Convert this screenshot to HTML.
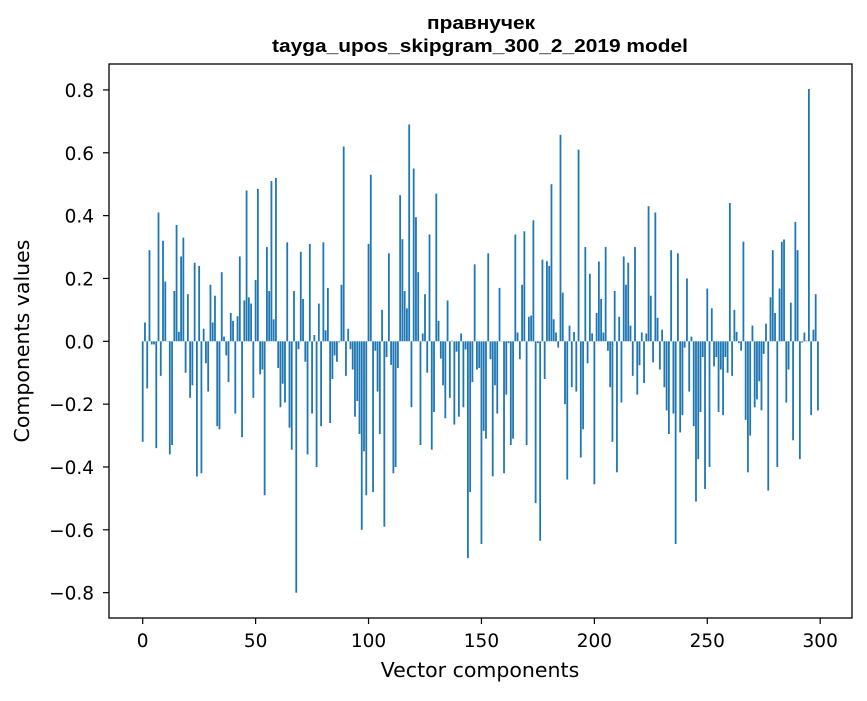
<!DOCTYPE html>
<html><head><meta charset="utf-8"><style>
body{margin:0;background:#fff;}
svg text{font-family:"DejaVu Sans","Liberation Sans",sans-serif;fill:#000;}
</style></head><body>
<svg id="chart" width="867" height="696" xmlns="http://www.w3.org/2000/svg">
<rect width="867" height="696" fill="#fff"/>
<text x="481" y="29" text-anchor="middle" textLength="108" lengthAdjust="spacingAndGlyphs" style="font-family:'Liberation Sans',sans-serif;font-weight:bold;font-size:18px">правнучек</text>
<text x="480" y="52" text-anchor="middle" textLength="416" lengthAdjust="spacingAndGlyphs" style="font-family:'Liberation Sans',sans-serif;font-weight:bold;font-size:18px">tayga_upos_skipgram_300_2_2019 model</text>
<g id="bars"></g>
<g id="axes"></g>
<rect x="109" y="64" width="743" height="554" fill="none" stroke="#000" stroke-width="1.3"/>
<text x="480" y="677" text-anchor="middle" font-size="20.5">Vector components</text>
<text transform="translate(29,341) rotate(-90)" text-anchor="middle" font-size="20.5">Components values</text>
</svg>
<script>
const values=[-0.32,0.06,-0.15,0.29,-0.01,-0.01,-0.34,0.41,-0.11,0.32,0.19,0.0,-0.36,-0.33,0.16,0.37,0.03,0.27,0.33,-0.10,
0.15,-0.18,-0.14,0.25,-0.43,0.24,-0.42,0.04,-0.07,-0.16,0.18,0.06,0.145,-0.27,-0.28,0.22,0.015,-0.045,-0.13,0.09,
0.065,-0.23,0.08,0.27,-0.305,0.13,0.48,0.14,0.12,-0.18,0.195,0.485,-0.105,-0.09,-0.49,0.30,0.16,0.51,0.07,0.52,
-0.085,-0.21,-0.135,-0.195,0.315,-0.275,-0.345,0.16,-0.80,-0.025,0.285,0.135,-0.065,-0.36,0.31,-0.23,0.02,-0.40,0.12,-0.27,
0.315,0.035,0.17,-0.26,-0.12,-0.045,-0.065,-0.003,0.18,0.62,-0.11,0.04,-0.025,-0.09,-0.24,-0.19,-0.295,-0.60,-0.35,-0.49,
0.31,0.53,-0.48,-0.03,-0.16,-0.295,0.10,-0.59,-0.05,0.28,-0.075,-0.42,-0.40,-0.085,0.465,0.325,0.16,0.105,0.69,-0.21,
0.55,0.395,0.22,-0.33,0.025,0.15,-0.10,0.34,-0.345,-0.225,0.47,0.065,-0.055,-0.14,-0.245,0.13,-0.18,0.002,-0.265,-0.033,
-0.24,0.025,-0.21,-0.026,-0.69,-0.48,-0.13,0.245,-0.09,-0.085,-0.645,-0.285,-0.31,0.28,-0.057,-0.43,-0.14,-0.23,0.17,0.0,
-0.42,-0.17,-0.006,-0.33,-0.31,0.34,0.028,-0.057,0.18,0.35,-0.33,0.078,0.082,0.385,-0.515,-0.006,-0.635,0.26,-0.12,0.255,
0.24,0.50,0.07,0.028,-0.02,0.657,0.155,-0.20,-0.44,0.05,-0.146,0.03,-0.16,0.61,-0.37,-0.28,0.30,-0.07,0.215,0.025,
-0.455,0.09,0.254,0.135,0.028,0.30,-0.03,-0.146,-0.32,0.16,-0.417,0.078,-0.195,0.27,0.18,0.25,0.05,-0.11,0.30,-0.17,
-0.076,0.028,-0.133,0.025,0.43,0.145,-0.067,0.41,0.075,-0.09,0.037,-0.146,-0.22,-0.295,0.29,-0.23,-0.645,0.28,-0.29,-0.235,
-0.02,0.20,-0.16,0.015,-0.27,-0.51,-0.375,-0.225,-0.05,-0.47,0.168,-0.40,0.105,-0.08,-0.05,-0.225,-0.09,-0.235,-0.05,-0.10,
0.44,-0.11,0.10,0.03,-0.006,-0.03,0.317,-0.25,-0.417,-0.30,0.05,-0.21,-0.185,-0.127,-0.22,-0.04,0.056,-0.475,0.14,0.29,
0.09,-0.40,0.168,0.317,0.324,-0.195,-0.09,0.123,-0.315,0.38,0.29,-0.375,-0.004,0.028,0.002,0.803,-0.235,0.037,0.15,-0.22];
const xTicks=[0,50,100,150,200,250,300];
const yTicks=[-0.8,-0.6,-0.4,-0.2,0.0,0.2,0.4,0.6,0.8];
const NS="http://www.w3.org/2000/svg";
function xs(i){return 142.7+i*2.2583;}
function ys(v){return 341.3-v*314.2;}
const bars=document.getElementById('bars');
values.forEach((v,i)=>{
  const r=document.createElementNS(NS,'rect');
  
  
  const y0=ys(0),y1=ys(v);
  r.setAttribute('x',xs(i)-0.9);
  r.setAttribute('width',1.8);
  r.setAttribute('y',Math.min(y0,y1));
  r.setAttribute('height',Math.max(Math.abs(y1-y0),0.3));
  r.setAttribute('fill','#1f77b4');
  bars.appendChild(r);
});
const axes=document.getElementById('axes');
xTicks.forEach(t=>{
  const l=document.createElementNS(NS,'line');
  
  
  l.setAttribute('x1',xs(t));l.setAttribute('x2',xs(t));
  l.setAttribute('y1',618);l.setAttribute('y2',624);
  l.setAttribute('stroke','#000');l.setAttribute('stroke-width','1.2');
  axes.appendChild(l);
  const tx=document.createElementNS(NS,'text');
  
  
  tx.setAttribute('x',xs(t));tx.setAttribute('y',647);
  tx.setAttribute('text-anchor','middle');tx.setAttribute('font-size','18.5');
  tx.textContent=String(t);
  axes.appendChild(tx);
});
yTicks.forEach(t=>{
  const l=document.createElementNS(NS,'line');
  
  
  l.setAttribute('x1',103);l.setAttribute('x2',109);
  l.setAttribute('y1',ys(t));l.setAttribute('y2',ys(t));
  l.setAttribute('stroke','#000');l.setAttribute('stroke-width','1.2');
  axes.appendChild(l);
  const tx=document.createElementNS(NS,'text');
  
  
  tx.setAttribute('x',94);tx.setAttribute('y',ys(t)+7);
  tx.setAttribute('text-anchor','end');tx.setAttribute('font-size','18.5');
  tx.textContent=(t<0?'\u2212':'')+Math.abs(t).toFixed(1);
  axes.appendChild(tx);
});
</script>
</body></html>
